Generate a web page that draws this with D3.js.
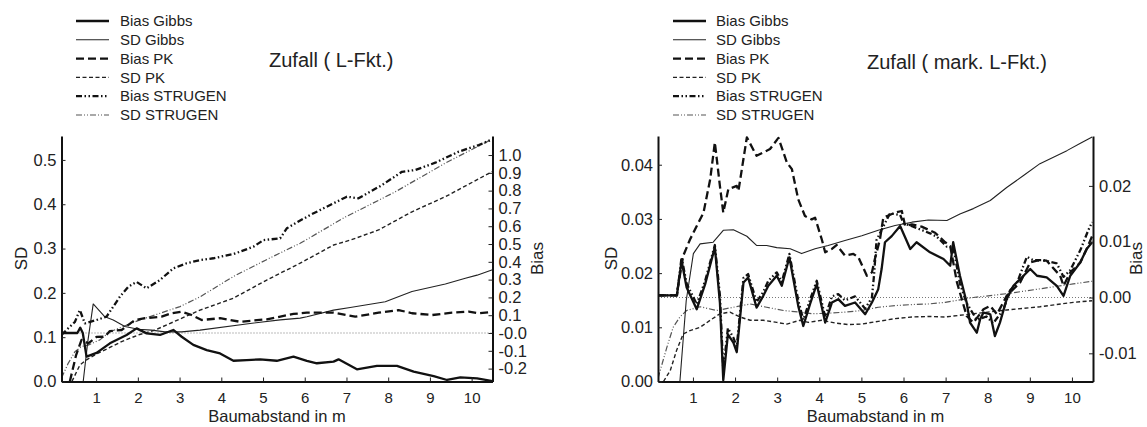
<!DOCTYPE html>
<html>
<head>
<meta charset="utf-8">
<script src="https://cdn.jsdelivr.net/npm/d3@7"></script>
<style>
  body { margin: 0; background: #fff; }
  svg { display: block; font-family: "Liberation Sans", Arial, sans-serif; }
</style>
</head>
<body>
<div id="chart"></div>
<script>
(function(){

// ---- data: [Baumabstand in m, value] ----

const legendNames = ['Bias Gibbs', 'SD Gibbs', 'Bias PK', 'SD PK', 'Bias STRUGEN', 'SD STRUGEN'];
const xTicks = [1, 2, 3, 4, 5, 6, 7, 8, 9, 10];

// left panel: Zufall ( L-Fkt.)
const leftSdTicks = [0, 0.1, 0.2, 0.3, 0.4, 0.5];
const leftBiasTicks = [-0.2, -0.1, 0, 0.1, 0.2, 0.3, 0.4, 0.5, 0.6, 0.7, 0.8, 0.9, 1.0];

const leftBiasGibbs = [[0.17,0],[0.55,0],[0.62,0.03],[0.68,0],[0.77,-0.133],[1.01,-0.112],[1.33,-0.058],[1.73,-0.011],[1.97,0.026],[2.21,-0.002],[2.53,-0.011],[2.85,0.017],[3.05,-0.021],[3.33,-0.067],[3.65,-0.096],[3.97,-0.115],[4.29,-0.156],[4.61,-0.152],[4.93,-0.148],[5.33,-0.156],[5.73,-0.133],[6.05,-0.157],[6.29,-0.170],[6.69,-0.161],[6.81,-0.148],[7.25,-0.204],[7.73,-0.185],[8.21,-0.185],[8.61,-0.217],[9.09,-0.242],[9.41,-0.264],[9.73,-0.249],[10.13,-0.255],[10.5,-0.27]];
const leftSdGibbs = [[0.69,0],[0.8,0.09],[0.93,0.175],[1.21,0.146],[1.41,0.139],[1.69,0.124],[2.01,0.118],[2.33,0.116],[2.65,0.112],[3.05,0.112],[3.49,0.116],[4.69,0.131],[5.41,0.139],[5.89,0.143],[6.05,0.146],[6.69,0.161],[7.09,0.167],[7.93,0.180],[8.57,0.203],[9.37,0.220],[9.85,0.233],[10.13,0.240],[10.5,0.252]];
const leftBiasPK = [[0.37,-0.272],[0.52,-0.124],[0.65,-0.039],[0.81,-0.058],[1.01,-0.022],[1.21,-0.021],[1.33,0.011],[1.61,0.017],[1.93,0.073],[2.17,0.083],[2.57,0.092],[2.81,0.111],[3.05,0.120],[3.29,0.101],[3.53,0.073],[3.97,0.083],[4.45,0.063],[5.09,0.077],[5.73,0.107],[6.05,0.114],[6.69,0.114],[7.21,0.092],[7.77,0.114],[8.25,0.129],[8.57,0.111],[9.05,0.101],[9.53,0.114],[9.93,0.120],[10.17,0.111],[10.5,0.118]];
const leftSdPK = [[0.42,0],[0.61,0.037],[0.77,0.049],[1.05,0.064],[1.29,0.075],[1.61,0.090],[2.01,0.105],[2.41,0.116],[3.49,0.161],[4.29,0.188],[5.09,0.229],[5.89,0.267],[6.69,0.308],[7.09,0.319],[7.77,0.342],[8.57,0.383],[9.37,0.417],[10.5,0.474]];
const leftBiasStrugen = [[0.17,-0.011],[0.29,0.017],[0.49,0.062],[0.61,0.129],[0.73,0.054],[1.01,0.073],[1.25,0.092],[1.57,0.204],[1.77,0.260],[1.97,0.287],[2.21,0.251],[2.53,0.298],[2.85,0.363],[3.17,0.392],[3.49,0.410],[3.81,0.420],[4.29,0.444],[4.45,0.457],[4.77,0.485],[5.01,0.522],[5.41,0.532],[5.57,0.588],[5.89,0.632],[6.13,0.663],[6.69,0.729],[7.01,0.766],[7.29,0.757],[7.85,0.831],[8.33,0.906],[8.65,0.916],[9.13,0.957],[9.69,1.019],[10.17,1.056],[10.45,1.084]];
const leftSdStrugen = [[0.17,0.008],[0.33,0.041],[0.49,0.067],[0.65,0.079],[0.81,0.082],[1.09,0.094],[1.33,0.112],[2.05,0.139],[3.01,0.169],[3.49,0.191],[4.29,0.237],[5.17,0.279],[5.89,0.312],[6.97,0.371],[8.17,0.428],[9.37,0.493],[10.45,0.545]];

// right panel: Zufall ( mark. L-Fkt.)
const rightSdTicks = [0, 0.01, 0.02, 0.03, 0.04];
const rightBiasTicks = [-0.01, 0, 0.01, 0.02];

const rightBiasGibbs = [[0.17,0.0004],[0.62,0.0004],[0.73,0.0066],[0.85,0.0018],[1.09,-0.0021],[1.29,0.0024],[1.52,0.0090],[1.64,-0.0009],[1.72,-0.0148],[1.83,-0.0066],[1.96,-0.0081],[2.04,-0.0098],[2.20,0.0027],[2.31,0.0036],[2.51,-0.0018],[2.67,0.0003],[2.79,0.0021],[2.99,0.0039],[3.11,0.0021],[3.29,0.0072],[3.50,-0.0015],[3.62,-0.0051],[3.78,-0.0012],[3.94,0.0024],[4.14,-0.0045],[4.30,-0.0009],[4.45,-0.0003],[4.61,-0.0015],[4.85,-0.0009],[5.09,-0.0030],[5.25,-0.0009],[5.40,0.0015],[5.48,0.0051],[5.56,0.0099],[5.72,0.0110],[5.92,0.0128],[6.16,0.0087],[6.31,0.0099],[6.63,0.0081],[6.95,0.0069],[7.11,0.0057],[7.18,0.0099],[7.34,0.0039],[7.50,-0.0009],[7.58,-0.0045],[7.74,-0.0063],[7.82,-0.0039],[7.90,-0.0027],[8.06,-0.0030],[8.17,-0.0069],[8.29,-0.0045],[8.45,-0.0003],[8.61,0.0021],[8.85,0.0039],[9.01,0.0051],[9.17,0.0039],[9.40,0.0036],[9.64,0.0021],[9.80,0.0003],[9.96,0.0039],[10.20,0.0063],[10.35,0.0087],[10.48,0.0099]];
const rightSdGibbs = [[0.69,0],[0.84,0.0149],[1.01,0.0236],[1.17,0.0254],[1.48,0.0257],[1.72,0.0279],[1.96,0.0280],[2.28,0.0268],[2.51,0.0251],[2.75,0.0251],[2.99,0.0247],[3.31,0.0245],[3.58,0.0236],[3.90,0.0245],[4.21,0.0251],[4.61,0.0260],[5.01,0.0269],[5.40,0.0279],[5.80,0.0288],[6.20,0.0294],[6.59,0.0298],[7.03,0.0297],[7.34,0.0309],[7.66,0.0319],[8.06,0.0334],[8.45,0.0358],[8.85,0.0380],[9.24,0.0402],[9.56,0.0414],[9.88,0.0426],[10.19,0.0439],[10.48,0.0451]];
const rightBiasPK = [[0.17,0.0004],[0.61,0.0004],[0.77,0.0075],[0.93,0.0104],[1.09,0.0128],[1.25,0.0152],[1.41,0.0212],[1.52,0.0278],[1.64,0.0200],[1.72,0.0152],[1.84,0.0194],[2.04,0.0200],[2.08,0.0191],[2.28,0.0287],[2.51,0.0254],[2.83,0.0266],[3.03,0.0286],[3.23,0.0242],[3.35,0.0230],[3.50,0.0176],[3.66,0.0146],[3.82,0.0140],[3.90,0.0143],[4.06,0.0104],[4.14,0.0081],[4.30,0.0087],[4.41,0.0094],[4.61,0.0075],[4.81,0.0078],[4.93,0.0072],[5.13,0.0039],[5.25,0.0045],[5.32,0.0069],[5.44,0.0104],[5.52,0.0143],[5.64,0.0147],[5.80,0.0152],[5.96,0.0155],[6.04,0.0128],[6.20,0.0131],[6.43,0.0127],[6.75,0.0116],[6.99,0.0099],[7.11,0.0092],[7.27,0.0027],[7.50,-0.0033],[7.66,-0.0045],[7.90,-0.0021],[8.06,-0.0015],[8.22,-0.0030],[8.45,0.0003],[8.77,0.0027],[9.01,0.0063],[9.17,0.0066],[9.40,0.0066],[9.72,0.0039],[9.80,0.0021],[9.96,0.0045],[10.20,0.0063],[10.35,0.0087],[10.48,0.0110]];
const rightSdPK = [[0.30,0],[0.46,0.0020],[0.61,0.0057],[0.77,0.0088],[0.93,0.0094],[1.17,0.0100],[1.41,0.0113],[1.64,0.0125],[1.88,0.0128],[2.12,0.0119],[2.36,0.0113],[2.67,0.0113],[2.99,0.0109],[3.23,0.0106],[3.54,0.0113],[3.74,0.0109],[4.06,0.0113],[4.37,0.0108],[4.69,0.0105],[5.01,0.0106],[5.40,0.0111],[5.80,0.0116],[6.20,0.0119],[6.59,0.0120],[6.99,0.0119],[7.66,0.0125],[8.45,0.0132],[9.24,0.0138],[10.03,0.0146],[10.48,0.0149]];
const rightBiasStrugen = [[0.17,0.0004],[0.62,0.0004],[0.73,0.0072],[0.85,0.0025],[1.09,-0.0012],[1.29,0.0030],[1.52,0.0094],[1.64,0.0004],[1.72,-0.0130],[1.83,-0.0055],[1.96,-0.0072],[2.04,-0.0088],[2.20,0.0035],[2.31,0.0042],[2.51,-0.0008],[2.67,0.0010],[2.79,0.0030],[2.99,0.0045],[3.11,0.0028],[3.29,0.0078],[3.50,-0.0005],[3.62,-0.0040],[3.78,-0.0004],[3.94,0.0030],[4.14,-0.0035],[4.30,0.0002],[4.45,0.0006],[4.61,-0.0005],[4.85,0.0002],[5.09,-0.0020],[5.25,0.0000],[5.30,0.0040],[5.36,0.0103],[5.68,0.0151],[5.92,0.0148],[6.00,0.0133],[6.23,0.0127],[6.63,0.0115],[6.79,0.0109],[7.03,0.0091],[7.18,0.0091],[7.34,0.0025],[7.50,-0.0010],[7.74,-0.0040],[7.97,-0.0034],[8.13,-0.0046],[8.37,-0.0022],[8.53,0.0013],[8.69,0.0025],[8.93,0.0073],[9.08,0.0067],[9.32,0.0067],[9.64,0.0061],[9.80,0.0037],[9.96,0.0049],[10.20,0.0085],[10.39,0.0121],[10.48,0.0135]];
const rightSdStrugen = [[0.17,0.0006],[0.38,0.0063],[0.53,0.0100],[0.69,0.0119],[0.85,0.0131],[1.17,0.0138],[1.56,0.0131],[1.96,0.0137],[2.36,0.0143],[2.75,0.0137],[3.15,0.0131],[3.54,0.0128],[3.82,0.0125],[4.21,0.0126],[4.61,0.0128],[5.01,0.0131],[5.40,0.0137],[5.80,0.0140],[6.20,0.0142],[6.59,0.0143],[6.99,0.0146],[7.66,0.0155],[8.45,0.0162],[9.24,0.0171],[10.03,0.0180],[10.48,0.0185]];

// ---- layout / styles ----
const width = 1147, height = 427;
const plotTop = 136, plotBottom = 381.5;
const xDomain = [0.17, 10.5];

const lineStyles = {
    'Bias Gibbs':   { w: 2.3, dash: null, color: '#111' },
    'SD Gibbs':     { w: 1.1, dash: null, color: '#222' },
    'Bias PK':      { w: 2.3, dash: '8,4', color: '#111' },
    'SD PK':        { w: 1.4, dash: '4,2.5', color: '#222' },
    'Bias STRUGEN': { w: 2.3, dash: '6,2.5,1.5,2.5,1.5,2.5', color: '#111' },
    'SD STRUGEN':   { w: 1.2, dash: '6,2,1,2,1,2', color: '#555' }
};

const panels = [
    {
        id: 'left',
        x0: 61.5, x1: 492.5,
        sdDomain: [0, 0.554], biasDomain: [-0.2725, 1.107],
        sdTicks: leftSdTicks, biasTicks: leftBiasTicks,
        sdFormat: d => d.toFixed(1),
        biasFormat: d => (d <= 0 ? '-' + Math.abs(d).toFixed(1) : d.toFixed(1)),
        title: 'Zufall ( L-Fkt.)', titleX: 269, titleY: 67,
        legendX: 76, legendTextX: 120,
        sdLabelX: 21, biasLabelX: 537.5,
        series: {
            'Bias Gibbs': leftBiasGibbs, 'SD Gibbs': leftSdGibbs,
            'Bias PK': leftBiasPK, 'SD PK': leftSdPK,
            'Bias STRUGEN': leftBiasStrugen, 'SD STRUGEN': leftSdStrugen
        }
    },
    {
        id: 'right',
        x0: 658, x1: 1093,
        sdDomain: [0, 0.0453], biasDomain: [-0.01505, 0.02894],
        sdTicks: rightSdTicks, biasTicks: rightBiasTicks,
        sdFormat: d => d.toFixed(2),
        biasFormat: d => d.toFixed(2),
        title: 'Zufall ( mark. L-Fkt.)', titleX: 867, titleY: 69,
        legendX: 673, legendTextX: 716,
        sdLabelX: 611, biasLabelX: 1136,
        series: {
            'Bias Gibbs': rightBiasGibbs, 'SD Gibbs': rightSdGibbs,
            'Bias PK': rightBiasPK, 'SD PK': rightSdPK,
            'Bias STRUGEN': rightBiasStrugen, 'SD STRUGEN': rightSdStrugen
        }
    }
];

const svg = d3.select('#chart')
    .append('svg')
    .attr('width', width)
    .attr('height', height);

svg.append('rect').attr('width', width).attr('height', height).attr('fill', '#fff');

function styleLine(sel, name) {
    const s = lineStyles[name];
    sel.attr('fill', 'none')
        .attr('stroke', s.color)
        .attr('stroke-width', s.w)
        .attr('stroke-linejoin', 'round')
        .attr('stroke-dasharray', s.dash);
}

function drawPanel(p) {
    const g = svg.append('g').attr('class', 'panel-' + p.id);

    const x = d3.scaleLinear().domain(xDomain).range([p.x0, p.x1]);
    const ySd = d3.scaleLinear().domain(p.sdDomain).range([plotBottom, plotTop]);
    const yBias = d3.scaleLinear().domain(p.biasDomain).range([plotBottom, plotTop]);

    // clip
    g.append('clipPath').attr('id', 'clip-' + p.id)
        .append('rect')
        .attr('x', p.x0).attr('y', plotTop - 2)
        .attr('width', p.x1 - p.x0).attr('height', plotBottom - plotTop + 2);

    // dotted zero-bias reference
    g.append('line')
        .attr('x1', p.x0).attr('x2', p.x1)
        .attr('y1', yBias(0)).attr('y2', yBias(0))
        .attr('stroke', '#777')
        .attr('stroke-width', 1)
        .attr('stroke-dasharray', '1,2');

    const lines = g.append('g').attr('clip-path', `url(#clip-${p.id})`);
    // draw thin SD first, thick bias on top
    const order = ['SD STRUGEN', 'SD PK', 'SD Gibbs', 'Bias PK', 'Bias STRUGEN', 'Bias Gibbs'];
    order.forEach(name => {
        const y = name.startsWith('Bias') ? yBias : ySd;
        const line = d3.line().x(d => x(d[0])).y(d => y(d[1]));
        lines.append('path')
            .datum(p.series[name])
            .attr('d', line)
            .call(styleLine, name);
    });

    // axes
    const xAxis = d3.axisBottom(x).tickValues(xTicks).tickSize(-4).tickSizeOuter(0)
        .tickPadding(11).tickFormat(d3.format('d'));
    const sdAxis = d3.axisLeft(ySd).tickValues(p.sdTicks).tickSize(-4).tickSizeOuter(0)
        .tickPadding(5).tickFormat(p.sdFormat);
    const biasAxis = d3.axisRight(yBias).tickValues(p.biasTicks).tickSize(-4).tickSizeOuter(0)
        .tickPadding(6).tickFormat(p.biasFormat);

    const gx = g.append('g').attr('transform', `translate(0,${plotBottom})`).call(xAxis);
    const gl = g.append('g').attr('transform', `translate(${p.x0},0)`).call(sdAxis);
    const gr = g.append('g').attr('transform', `translate(${p.x1},0)`).call(biasAxis);

    [gx, gl, gr].forEach(a => {
        a.attr('font-family', null).attr('font-size', null);
        a.select('.domain').attr('stroke', '#111').attr('stroke-width', 2);
        a.selectAll('.tick line').attr('stroke', '#222').attr('stroke-width', 1);
        a.selectAll('.tick text').attr('fill', '#222');
    });
    gx.selectAll('.tick text').style('font-size', '15px');
    gl.selectAll('.tick text').style('font-size', '16.5px');
    gr.selectAll('.tick text').style('font-size', '16.5px');

    // axis titles
    g.append('text')
        .attr('x', (p.x0 + p.x1) / 2)
        .attr('y', 422)
        .attr('text-anchor', 'middle')
        .attr('fill', '#222')
        .style('font-size', '16.5px')
        .text('Baumabstand in m');

    g.append('text')
        .attr('transform', `translate(${p.sdLabelX},258.5) rotate(-90)`)
        .attr('text-anchor', 'middle')
        .attr('dy', '0.35em')
        .attr('fill', '#222')
        .style('font-size', '17px')
        .text('SD');

    g.append('text')
        .attr('transform', `translate(${p.biasLabelX},258.5) rotate(-90)`)
        .attr('text-anchor', 'middle')
        .attr('dy', '0.35em')
        .attr('fill', '#222')
        .style('font-size', '17px')
        .text('Bias');

    // title
    g.append('text')
        .attr('x', p.titleX)
        .attr('y', p.titleY)
        .attr('fill', '#222')
        .style('font-size', '20px')
        .text(p.title);

    // legend
    const leg = g.append('g');
    legendNames.forEach((name, i) => {
        const ly = 21 + i * 18.8;
        leg.append('line')
            .attr('x1', p.legendX).attr('x2', p.legendX + 33)
            .attr('y1', ly).attr('y2', ly)
            .call(styleLine, name);
        leg.append('text')
            .attr('x', p.legendTextX)
            .attr('y', ly)
            .attr('dy', '0.35em')
            .attr('fill', '#222')
            .style('font-size', '15px')
            .text(name);
    });
}

panels.forEach(drawPanel);

})();
</script>
</body>
</html>
